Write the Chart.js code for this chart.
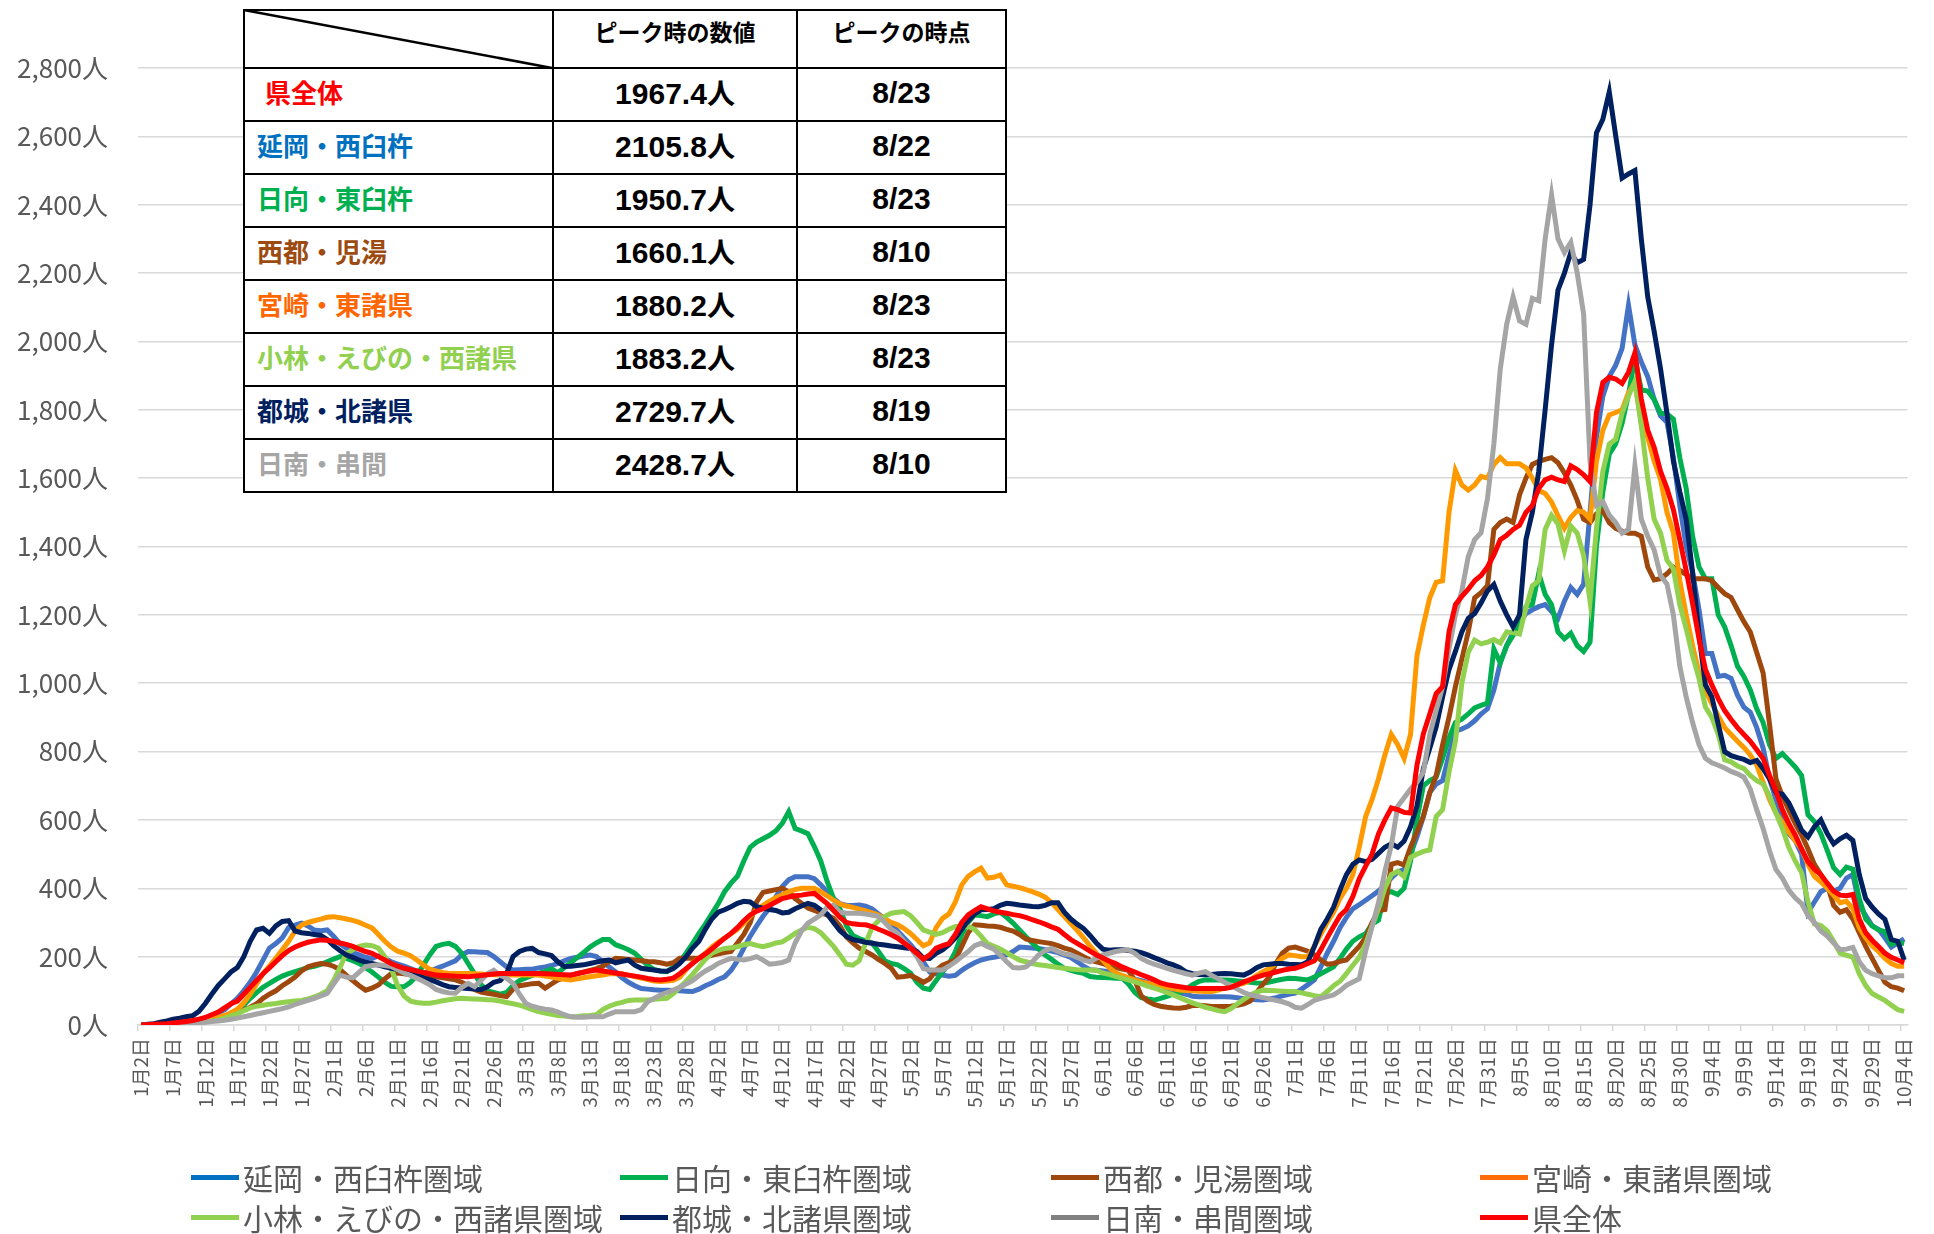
<!DOCTYPE html>
<html lang="ja">
<head>
<meta charset="utf-8">
<script src="https://cdn.jsdelivr.net/npm/chart.js@4.4.1/dist/chart.umd.min.js"></script>
<style>
html,body{margin:0;padding:0;background:#fff;}
#wrap{position:relative;width:1934px;height:1234px;overflow:hidden;font-family:"Noto Sans CJK JP","Noto Sans",sans-serif;}
#chart{position:absolute;left:0;top:0;}
#peak{position:absolute;left:243px;top:9px;border-collapse:collapse;table-layout:fixed;background:#fff;}
#peak td{border:2.5px solid #000;padding:0;font-weight:bold;line-height:1;vertical-align:middle;}
#peak td.name{text-align:left;padding-left:12px;padding-bottom:5px;font-size:26px;font-family:"Noto Sans CJK JP",sans-serif;}
#peak td.val,#peak td.date{text-align:center;font-size:30px;padding-bottom:3px;color:#000;font-family:"Liberation Sans","Noto Sans CJK JP",sans-serif;}
#peak td.val span{font-family:"Noto Sans CJK JP",sans-serif;font-size:28px;}
#peak td.hd{text-align:center;font-size:23px;color:#000;font-family:"Noto Sans CJK JP",sans-serif;vertical-align:top;padding-top:9px;}
#diag{position:absolute;left:243px;top:9px;}
.lg{position:absolute;height:34px;display:flex;align-items:center;font-size:30px;color:#595959;white-space:nowrap;}
.lg span.sw{display:inline-block;width:48px;height:5px;margin-right:4px;}
</style>
</head>
<body>
<div id="wrap">
<canvas id="chart" width="1934" height="1234"></canvas>
<table id="peak"></table>
<svg id="diag" width="312" height="62"><line x1="1" y1="1" x2="309" y2="59" stroke="#000" stroke-width="2.5"/></svg>
<div id="legend"></div>
</div>
<script>
// ---- categories: daily, 2022-01-02 .. 2022-10-04 ----
const startDate = [2022, 0, 2];
const dayCount = 276;
const categories = [];
for (let k = 0; k < dayCount; k++) {
  const d = new Date(startDate[0], startDate[1], startDate[2] + k);
  categories.push((d.getMonth() + 1) + '月' + d.getDate() + '日');
}
const tickEvery = 5;
const yTickValues = [0,200,400,600,800,1000,1200,1400,1600,1800,2000,2200,2400,2600,2800];

const seriesNames = ['延岡・西臼杵圏域','日向・東臼杵圏域','西都・児湯圏域','宮崎・東諸県圏域','小林・えびの・西諸県圏域','都城・北諸県圏域','日南・串間圏域','県全体'];

const nobeoka = [
0,1,2,3,4,5,6,8,10,14,
20,28,35,45,62,78,100,125,155,190,
225,238,255,285,292,298,290,278,276,278,
260,238,225,212,205,198,195,202,195,185,
178,172,165,158,152,158,165,172,180,188,
205,215,214,213,212,200,185,170,161,162,
163,163,167,170,174,180,188,195,198,202,
205,200,185,170,155,138,125,115,107,105,
103,102,102,101,100,99,98,105,115,123,
133,141,160,188,225,260,290,318,342,375,
405,425,434,434,434,428,410,390,370,355,
350,350,351,348,340,325,310,293,275,255,
235,212,185,155,150,146,143,145,160,172,
182,190,195,198,202,205,215,228,227,225,
224,220,216,212,205,198,185,172,162,160,
158,156,150,143,138,134,130,125,118,113,
108,102,95,90,84,83,83,83,83,83,
82,80,77,75,74,73,76,80,85,90,
93,105,118,132,170,210,245,285,315,340,
352,365,378,392,410,430,448,455,500,550,
610,680,705,715,790,860,866,875,890,910,
925,980,1060,1110,1150,1175,1204,1215,1224,1230,
1210,1190,1240,1280,1260,1290,1500,1720,1840,1897,
1930,1980,2106,1990,1940,1897,1830,1782,1764,1660,
1520,1400,1324,1215,1087,1087,1020,1023,1014,965,
930,915,870,810,720,660,600,560,540,500,
330,360,390,400,392,400,430,440,350,320,
291,280,255,228,240,252];

const hyuga = [
0,0,1,1,2,3,4,5,7,8,
10,14,19,25,33,42,58,78,95,110,
122,133,143,150,156,162,168,172,177,185,
193,200,195,188,180,168,155,140,125,113,
112,112,125,145,175,205,230,236,239,230,
210,180,150,118,100,95,90,95,115,130,
138,145,151,157,164,153,168,182,197,212,
228,240,250,250,235,228,220,210,192,175,
162,158,156,170,185,210,238,268,295,325,
355,390,415,435,480,520,535,545,555,568,
590,624,575,568,560,522,480,420,370,340,
290,262,253,246,240,215,188,180,176,165,
152,125,108,104,130,155,178,215,265,300,
322,320,317,325,330,315,298,278,258,240,
222,205,192,178,166,160,155,151,142,140,
139,138,137,137,120,95,80,76,73,78,
84,90,95,105,118,128,132,132,132,132,
131,129,127,125,123,122,126,130,134,137,
136,134,132,140,150,160,170,195,222,245,
258,267,295,307,385,390,382,400,480,600,
700,715,725,780,840,885,895,910,928,935,
942,1100,1060,1110,1140,1170,1224,1230,1321,1260,
1230,1150,1130,1146,1110,1093,1120,1400,1560,1670,
1700,1760,1845,1951,1858,1855,1830,1790,1788,1773,
1660,1570,1430,1340,1306,1306,1200,1165,1110,1050,
1020,980,925,885,820,780,794,775,755,730,
615,595,560,511,460,440,462,456,370,310,
290,278,273,236,242,238];

const saito = [
0,0,1,1,2,3,4,5,6,8,
10,13,17,22,28,35,44,52,62,78,
90,100,115,127,140,158,170,176,180,178,
172,162,145,130,115,102,108,117,135,150,
152,150,148,147,146,144,141,138,135,132,
125,115,104,96,93,90,86,83,105,115,
118,121,122,108,120,132,138,145,151,155,
160,165,172,185,195,194,192,190,188,186,
185,182,178,182,195,195,195,196,200,204,
208,212,215,240,265,300,360,388,392,396,
400,390,370,356,342,335,328,322,312,290,
258,240,225,215,205,192,180,166,140,142,
145,136,125,135,160,175,183,190,230,270,
293,292,290,289,286,280,275,265,252,247,
244,241,238,232,225,220,210,200,190,185,
180,172,168,164,160,130,85,70,60,55,
52,50,49,52,57,58,56,54,54,54,
55,58,62,70,95,120,141,180,210,225,
228,222,216,205,190,178,180,186,190,210,
230,255,300,335,338,470,475,468,520,565,
610,680,730,820,900,990,1070,1150,1250,1265,
1285,1450,1470,1480,1470,1551,1600,1640,1649,1655,
1660,1645,1615,1580,1535,1480,1470,1495,1505,1470,
1453,1445,1439,1439,1430,1340,1302,1306,1320,1340,
1330,1318,1306,1306,1306,1300,1280,1262,1251,1215,
1180,1150,1090,1030,880,720,670,629,590,556,
515,470,440,410,350,330,337,310,270,230,
195,160,125,112,108,100];

const miyazaki = [
0,1,2,3,4,5,6,8,10,12,
15,18,22,28,36,46,65,90,120,150,
172,195,220,245,275,292,300,305,310,315,
317,314,310,306,300,292,284,265,245,228,
216,210,203,190,176,163,158,154,151,151,
151,151,150,149,148,147,146,146,146,146,
146,146,146,143,140,137,134,132,135,138,
141,144,146,150,151,149,146,142,137,133,
129,127,129,131,140,162,182,195,210,228,
242,254,267,280,298,318,337,350,362,372,
381,390,396,400,400,400,390,378,365,354,
348,344,339,334,328,322,310,300,293,282,
268,250,232,240,285,312,325,360,410,435,
448,459,430,432,439,410,406,402,396,390,
383,374,358,338,317,297,277,255,232,210,
190,168,153,145,138,132,126,122,118,114,
110,106,102,101,100,99,98,98,102,108,
113,118,122,132,145,156,165,180,195,205,
203,200,200,230,265,300,330,370,400,440,
520,610,660,720,790,850,820,780,850,1080,
1170,1250,1295,1300,1500,1622,1580,1565,1580,1605,
1600,1640,1660,1642,1642,1642,1630,1600,1564,1555,
1530,1490,1453,1485,1505,1500,1480,1649,1740,1785,
1792,1800,1850,1880,1760,1720,1650,1596,1500,1440,
1300,1200,1110,1030,977,940,904,870,850,830,
812,790,760,710,660,620,593,565,540,515,
470,435,419,400,380,358,362,340,285,255,
232,215,195,180,172,172];

const kobayashi = [
0,0,1,1,2,3,4,5,6,8,
10,12,15,20,27,33,42,50,55,58,
61,63,66,68,70,72,76,82,90,100,
130,168,210,220,230,234,232,225,200,165,
115,85,70,66,64,64,67,71,74,77,
78,77,76,75,74,73,70,66,62,58,
52,45,39,35,31,28,26,24,25,27,
28,30,45,55,62,66,72,73,73,73,
75,77,78,92,110,128,148,170,192,210,
218,224,226,229,235,238,233,229,234,240,
243,255,268,278,286,282,270,250,230,205,
178,175,188,240,285,305,318,327,330,332,
320,300,278,272,265,270,280,288,288,288,
280,260,238,230,222,212,200,190,185,180,
176,174,171,168,166,164,162,161,161,160,
152,148,142,137,132,126,120,114,108,102,
95,88,80,72,65,58,52,47,42,39,
48,62,75,88,96,102,101,100,99,98,
98,94,90,86,83,98,115,128,150,175,
198,237,290,340,400,440,450,434,490,500,
508,512,610,630,740,830,1000,1090,1126,1115,
1120,1128,1118,1150,1148,1144,1220,1285,1300,1450,
1491,1466,1387,1460,1439,1374,1240,1453,1620,1700,
1714,1790,1840,1883,1753,1600,1480,1439,1360,1335,
1230,1160,1080,1014,930,900,850,776,770,758,
750,730,715,705,670,620,575,520,480,446,
360,296,291,275,245,210,204,199,150,115,
92,82,72,58,45,40];

const miyakonojo = [
0,2,4,8,12,17,20,24,27,40,
63,90,115,135,155,168,200,245,278,283,
268,290,303,305,275,270,268,265,262,250,
232,218,205,198,190,184,180,175,170,166,
162,156,151,145,138,133,126,118,112,110,
108,107,105,103,112,125,130,150,200,215,
222,224,212,208,203,185,171,172,174,176,
180,184,188,190,182,186,190,175,166,163,
161,158,157,165,180,200,225,245,280,310,
330,337,346,356,362,360,346,342,338,335,
328,330,340,348,356,350,337,325,300,276,
260,250,246,242,239,236,234,231,229,226,
224,215,196,195,210,220,235,255,280,305,
325,337,338,340,350,356,354,351,349,347,
346,350,358,358,330,310,295,282,262,240,
222,219,220,220,218,216,212,205,197,190,
182,176,168,155,150,148,147,148,150,151,
150,148,146,155,168,176,178,180,180,178,
177,176,185,230,280,310,345,395,440,470,
483,478,485,502,520,530,520,538,580,640,
750,810,872,960,1040,1093,1150,1190,1204,1235,
1270,1289,1240,1200,1165,1200,1420,1500,1620,1800,
1990,2150,2200,2260,2230,2240,2400,2610,2650,2730,
2602,2478,2490,2500,2300,2130,2030,1920,1790,1650,
1560,1480,1324,1142,995,960,880,800,788,782,
777,768,774,750,720,680,675,650,611,570,
550,580,600,560,530,545,555,540,440,370,
345,325,309,250,245,190];

const nichinan = [
0,0,0,1,1,2,3,4,5,6,
8,10,12,14,17,20,24,28,32,36,
40,44,48,53,60,66,72,78,85,92,
120,146,140,138,155,171,174,176,174,171,
162,152,145,137,128,118,104,98,94,93,
110,122,112,130,150,160,145,137,122,90,
63,55,50,46,44,38,30,24,23,23,
24,24,24,32,39,39,39,39,45,68,
78,88,95,102,110,120,130,145,158,168,
180,188,195,192,190,194,200,190,178,180,
183,190,240,275,298,310,322,345,350,330,
327,327,327,325,322,318,300,280,268,245,
225,200,165,161,161,161,172,185,200,215,
232,239,230,222,205,185,168,167,170,185,
205,218,224,215,208,205,198,190,185,196,
205,210,215,218,220,210,195,185,178,172,
166,160,155,150,146,152,156,145,135,125,
115,105,95,88,84,80,76,72,68,62,
52,49,60,72,78,83,88,100,116,126,
135,217,288,358,450,525,640,665,690,710,
740,850,920,990,1100,1200,1270,1370,1420,1440,
1540,1700,1920,2050,2130,2060,2050,2126,2119,2300,
2429,2300,2260,2290,2200,2080,1649,1520,1531,1492,
1470,1439,1450,1636,1480,1430,1390,1315,1290,1200,
1050,960,885,820,780,767,760,752,742,735,
725,690,630,575,510,455,430,395,372,355,
320,300,275,260,240,220,222,227,185,160,
150,144,138,138,144,144];

const kenzentai = [
0,1,2,3,4,6,8,10,13,17,
22,30,38,50,62,70,90,110,130,150,
167,185,203,218,228,236,242,246,249,248,
245,240,236,230,222,215,210,200,190,180,
172,166,162,158,154,150,146,145,144,143,
142,141,143,145,147,149,151,151,151,151,
151,151,151,150,149,148,147,146,150,154,
158,161,158,155,152,149,146,143,140,136,
133,132,134,137,150,165,180,195,208,222,
238,254,268,285,305,322,333,340,350,360,
370,374,378,380,383,385,370,355,335,315,
300,296,294,293,288,280,273,264,254,240,
226,210,193,205,225,232,238,265,300,322,
335,346,340,334,330,327,323,320,315,308,
302,295,287,280,265,250,239,228,216,205,
196,187,180,170,162,155,147,140,132,123,
118,115,112,109,107,107,107,107,107,107,
110,118,126,133,140,146,150,155,160,164,
166,172,180,188,220,255,288,320,338,376,
428,465,500,559,600,635,630,622,620,760,
852,910,970,990,1150,1230,1254,1275,1300,1315,
1340,1375,1420,1433,1450,1462,1500,1520,1570,1595,
1603,1595,1590,1636,1625,1610,1590,1792,1880,1895,
1890,1877,1910,1967,1831,1740,1690,1620,1570,1508,
1420,1330,1233,1130,1040,995,955,920,894,870,
850,830,805,780,730,684,630,590,556,515,
478,456,440,415,392,380,378,382,310,270,
248,230,210,198,190,182];

const seriesValues = [nobeoka, hyuga, saito, miyazaki, kobayashi, miyakonojo, nichinan, kenzentai];
const lineColors   = ['#4472C4','#00B050','#9E480E','#FF9900','#92D050','#002060','#A5A5A5','#FF0000'];
const legendColors = ['#0070C0','#00B050','#9E480E','#FF6D0A','#92D050','#002060','#808080','#FF0000'];

// ---- peak table ----
const peakAreas  = ['県全体','延岡・西臼杵','日向・東臼杵','西都・児湯','宮崎・東諸県','小林・えびの・西諸県','都城・北諸県','日南・串間'];
const peakColors = ['#FF0000','#0070C0','#00B050','#9C4A0F','#FF6600','#92D050','#002060','#A6A6A6'];
const peakValues = ['1967.4','2105.8','1950.7','1660.1','1880.2','1883.2','2729.7','2428.7'];
const peakDates  = ['8/23','8/22','8/23','8/10','8/23','8/23','8/19','8/10'];
const tableHead  = ['ピーク時の数値','ピークの時点'];

(function buildTable(){
  const t = document.getElementById('peak');
  let html = '<colgroup><col style="width:309px"><col style="width:244px"><col style="width:209px"></colgroup>';
  html += '<tr style="height:58px"><td></td><td class="hd">'+tableHead[0]+'</td><td class="hd">'+tableHead[1]+'</td></tr>';
  for (let r = 0; r < peakAreas.length; r++) {
    const pad = r === 0 ? ' style="color:'+peakColors[r]+';padding-left:20px"' : ' style="color:'+peakColors[r]+'"';
    html += '<tr style="height:53px"><td class="name"'+pad+'>'+peakAreas[r]+'</td><td class="val">'+peakValues[r]+'<span>人</span></td><td class="date">'+peakDates[r]+'</td></tr>';
  }
  t.innerHTML = html;
})();

(function buildLegend(){
  const lg = document.getElementById('legend');
  const colX = [191, 620, 1051, 1480];
  const rowY = [1160, 1200];
  seriesNames.forEach((n, k) => {
    const d = document.createElement('div');
    d.className = 'lg';
    d.style.left = colX[k % 4] + 'px';
    d.style.top = rowY[Math.floor(k / 4)] + 'px';
    d.innerHTML = '<span class="sw" style="background:'+legendColors[k]+'"></span>' + n;
    lg.appendChild(d);
  });
})();

const datasets = seriesNames.map((n, k) => ({
  label: n,
  data: seriesValues[k],
  borderColor: lineColors[k],
  backgroundColor: lineColors[k],
  borderWidth: 5,
  pointRadius: 0,
  pointHoverRadius: 0,
  tension: 0,
  fill: false,
  order: seriesNames.length - k
}));

new Chart(document.getElementById('chart'), {
  type: 'line',
  data: { labels: categories, datasets: datasets },
  options: {
    responsive: false,
    animation: false,
    devicePixelRatio: 1,
    layout: { padding: { top: 68, left: 0, right: 22, bottom: 109 } },
    plugins: { legend: { display: false }, tooltip: { enabled: false } },
    scales: {
      x: {
        type: 'category',
        offset: true,
        afterFit: s => { s.height = 100; },
        border: { display: true, color: '#D9D9D9', width: 1.5 },
        grid: {
          offset: true,
          drawOnChartArea: false,
          drawTicks: true,
          tickLength: 6,
          lineWidth: 1.5,
          color: c => (c.index % tickEvery === 0 ? '#D9D9D9' : 'rgba(0,0,0,0)')
        },
        ticks: {
          autoSkip: false,
          maxRotation: 90,
          minRotation: 90,
          padding: 7,
          color: '#595959',
          font: { family: '"Noto Sans CJK JP", sans-serif', size: 19 },
          callback: function(v, i) { return i % tickEvery === 0 ? categories[i] : ''; }
        }
      },
      y: {
        min: 0,
        max: 2800,
        afterFit: s => { s.width = 138; },
        afterBuildTicks: s => { s.ticks = yTickValues.map(v => ({ value: v })); },
        border: { display: false },
        grid: { color: '#D9D9D9', lineWidth: 1.5, drawTicks: false },
        ticks: {
          padding: 30,
          color: '#595959',
          font: { family: '"Noto Sans CJK JP", sans-serif', size: 26 },
          callback: v => v.toLocaleString('en-US') + '人'
        }
      }
    }
  }
});
</script>
</body>
</html>
